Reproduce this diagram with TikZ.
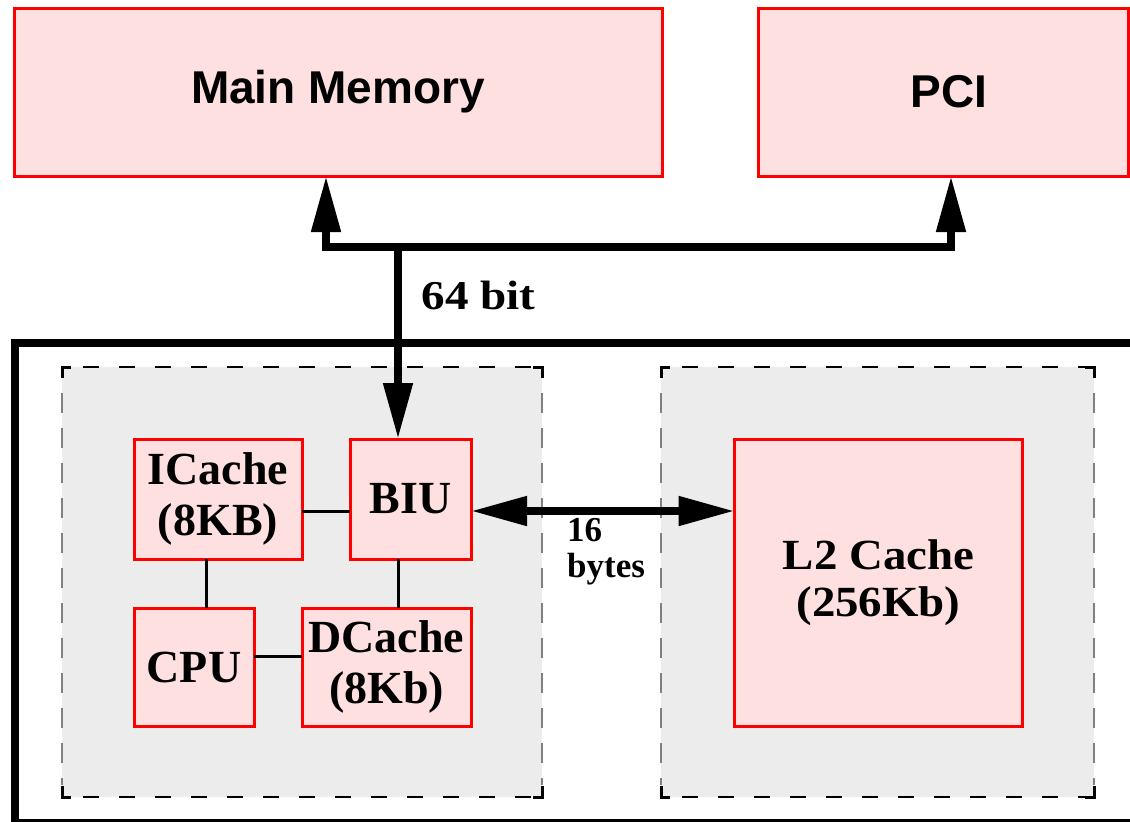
\documentclass[tikz,border=0pt]{standalone}
\usepackage{fontspec}
\setmainfont{Liberation Serif}
\newfontfamily\headfont{Liberation Sans}
\usetikzlibrary{arrows.meta}
\definecolor{boxpink}{RGB}{255,224,224}
\definecolor{zonegray}{RGB}{236,236,236}
\definecolor{dashgray}{RGB}{128,128,128}
\begin{document}
\begin{tikzpicture}[x=1pt,y=-1pt,
  >={Triangle[length=56pt,width=28pt]},
  unit/.style={draw=red, line width=3pt, fill=boxpink, inner sep=0pt, outer sep=0pt,
    align=center, font=\bfseries\fontsize{46}{51.5}\selectfont},
  bigunit/.style={unit, font=\headfont\bfseries\fontsize{46}{50}\selectfont},
  bus/.style={line width=8pt, line join=miter},
  link/.style={line width=3pt},
  sidedash/.style={draw=dashgray, line width=2pt, dash pattern=on 20pt off 15pt},
  edgedash/.style={draw=black, line width=2pt, dash pattern=on 16pt off 20pt},
  corner/.style={line width=3pt},
]
\useasboundingbox (0,0) rectangle (1130,822);

% shaded on-chip zones
\foreach \l/\r in {62/542, 661/1094} {
  \fill[zonegray] (\l,367) rectangle (\r,797);
  \draw[edgedash, dash phase=-12pt] (\l+9,367) -- (\r-9,367);
  \draw[edgedash, dash phase=-12pt] (\l+9,797) -- (\r-9,797);
  \draw[sidedash, dash phase=-14pt] (\l,379) -- (\l,785);
  \draw[sidedash, dash phase=-14pt] (\r,379) -- (\r,785);
  \draw[corner] (\l,378) -- (\l,367) -- (\l+9,367);
  \draw[corner] (\r,378) -- (\r,367) -- (\r-9,367);
  \draw[corner] (\l,786) -- (\l,797) -- (\l+9,797);
  \draw[corner] (\r,786) -- (\r,797) -- (\r-9,797);
}

% processor module outline
\draw[line width=8pt, line join=miter] (1140,343) -- (15,343) -- (15,822.5) -- (1140,822.5);

% off-chip units
\node[bigunit, minimum width=648pt, minimum height=168pt] (mem) at (338,92) {Main Memory};
\node[bigunit, minimum width=370pt, minimum height=168pt] (pci) at (943,92) {\hspace*{12pt}PCI};

% on-chip units
\node[unit, minimum width=168pt, minimum height=120pt] (icache) at (218,499) {ICache\\(8KB)};
\node[unit, minimum width=121pt, minimum height=120pt] (biu) at (410.5,499) {BIU};
\node[unit, minimum width=120pt, minimum height=118pt] (cpu) at (194,667) {CPU};
\node[unit, minimum width=169pt, minimum height=118pt] (dcache) at (386.5,667) {DCache\\(8Kb)};
\node[unit, minimum width=288pt, minimum height=287pt,
  font=\bfseries\fontsize{43}{47}\selectfont\addfontfeatures{FakeStretch=1.09}] (l2) at (878.5,582.5) {L2 Cache\\(256Kb)};

% internal links
\draw[link] (icache.east |- 0,511) -- (biu.west |- 0,511);
\draw[link] (icache.south -| 206,0) -- (cpu.north -| 206,0);
\draw[link] (biu.south -| 398,0) -- (dcache.north -| 398,0);
\draw[link] (cpu.east |- 0,656) -- (dcache.west |- 0,656);

% system bus
\coordinate (busL) at (326,247);
\coordinate (busR) at (951,247);
\coordinate (busT) at (398,247);
\draw[bus, <->] (busL |- mem.south) -- (busL) -- (busR) -- (busR |- pci.south);
\draw[bus, ->] (busT) -- (busT |- biu.north);
\node[anchor=base west, inner sep=0pt,
  font=\bfseries\fontsize{41}{46}\selectfont\addfontfeatures{FakeStretch=1.15}] (buswidth) at (421.5,309) {64 bit};

% backside bus to L2
\coordinate (bsb) at (0,511);
\draw[bus, <->] (biu.east |- bsb) -- (l2.west |- bsb);
\node[anchor=north west, inner sep=0pt, align=left,
  font=\bfseries\fontsize{35}{36}\selectfont] (bsbwidth) at (567,518) {16\\bytes};
\end{tikzpicture}
\end{document}
